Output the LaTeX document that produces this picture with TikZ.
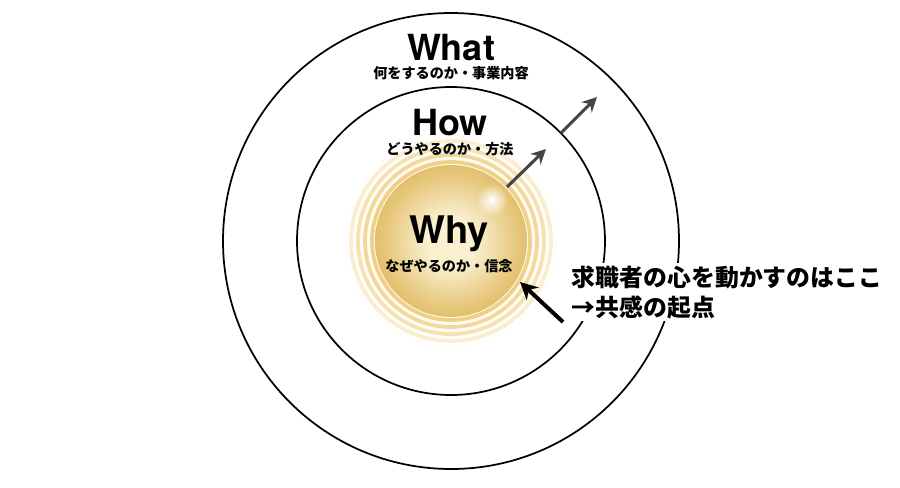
\documentclass[tikz,border=0pt]{standalone}
\usepackage{fontspec}
\setmainfont{TeX Gyre Heros}
\newfontfamily\cjk{Noto Sans CJK JP}
\usetikzlibrary{arrows.meta,fadings}

\definecolor{goldin}{HTML}{FAF0D0}
\definecolor{goldmid}{HTML}{E6C67A}
\definecolor{golddeep}{HTML}{D2A748}
\definecolor{goldout}{HTML}{AD7E22}
\definecolor{ringc}{HTML}{F0D085}
\definecolor{arrowgray}{HTML}{454545}

\pgfdeclareradialshading{goldball}{\pgfpoint{0bp}{0bp}}{%
	color(0bp)=(goldin); color(8bp)=(goldin); color(22bp)=(goldmid);
	color(36bp)=(golddeep); color(45bp)=(goldout); color(48bp)=(goldout!80!black); color(50bp)=(golddeep)}
\tikzfading[name=glow, inner color=transparent!0, outer color=transparent!100]

\tikzset{
	ring/.style={draw, line width=1.3pt},
	title/.style={font=\fontsize{27}{27}\selectfont\bfseries, anchor=base, inner sep=0pt},
	sub/.style={font=\cjk\fontsize{10.6}{12}\selectfont\bfseries, anchor=base, inner sep=0pt},
	growth/.style={arrowgray, line width=2.3pt, -{Stealth[length=11pt,width=11pt]}},
	point/.style={black, line width=3pt, -{Stealth[length=13pt,width=13pt]}}
}

\begin{document}
\begin{tikzpicture}[x=0.75pt,y=-0.75pt]
	\useasboundingbox (0,0) rectangle (900,487);
	\coordinate (c) at (451,241);

	% glow round the ball
	\fill[goldin, path fading=glow] (c) circle[radius=110];
	\foreach \r/\o in {79/1, 86/0.8, 93/0.6, 100/0.35}{
		\draw[ringc, line width=2.8pt, opacity=\o] (c) circle[radius=\r];
	}
	\shade[shading=goldball] (c) circle[radius=76];
	\fill[white, path fading=glow] (492,200) circle[radius=16];
	\fill[white, opacity=.8] (492,200) circle[radius=2.5];

	\draw[ring] (c) circle[radius=154];
	\draw[ring] (c) circle[radius=228];

	\node[title] (what) at (451,60) {What};
	\node[sub] (whatsub) at (451,78.5) {何をするのか・事業内容};
	\node[title] (how) at (450,135) {How};
	\node[sub] (howsub) at (450,154.5) {どうやるのか・方法};
	\node[title, font=\fontsize{28.5}{28.5}\selectfont\bfseries] (why) at (449,243) {Why};
	\node[sub] (whysub) at (449,271.5) {なぜやるのか・信念};

	\coordinate (s1) at (507,187);
	\coordinate (e1) at (546,149);
	\coordinate (s2) at (561,133);
	\coordinate (e2) at (597,97);
	\draw[growth] (s1) -- (e1);
	\draw[growth] (s2) -- (e2);

	\node[fill=white, inner sep=2pt, align=left, anchor=base west,
		font=\cjk\fontsize{17.9}{22.5}\selectfont\bfseries] (lbl) at (569,316)
		{求職者の心を動かすのはここ\\→共感の起点};

	\coordinate (tail) at (563,322);
	\coordinate (tip) at (520,282);
	\draw[point] (tail) -- (tip);
\end{tikzpicture}
\end{document}
